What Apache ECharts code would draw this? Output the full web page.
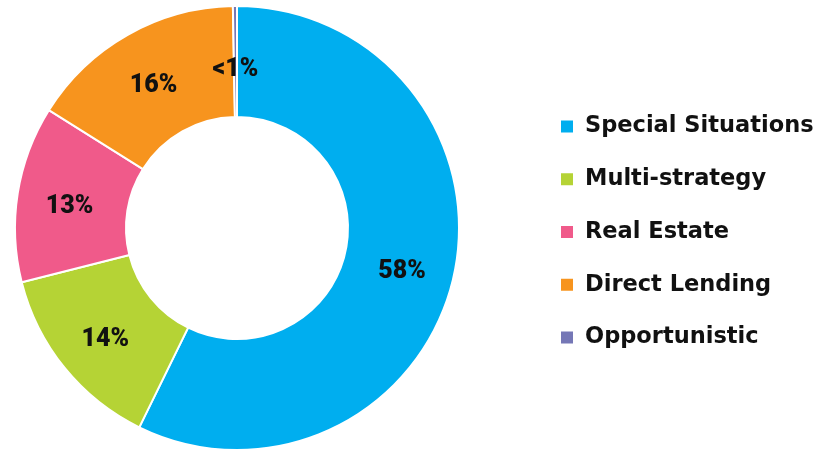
<!DOCTYPE html>
<html>
<head>
<meta charset="utf-8">
<script src="https://cdn.jsdelivr.net/npm/echarts@6/dist/echarts.min.js"></script>
<style>
  html, body { margin: 0; padding: 0; background: #ffffff; }
  #chart { width: 840px; height: 452px; }
</style>
</head>
<body>
<div id="chart"></div>
<script>
// Strategy allocation (percent of total)
const categories = ['Special Situations', 'Multi-strategy', 'Real Estate', 'Direct Lending', 'Opportunistic'];
const shares = [58, 14, 13, 16, 0.3];
const colors = ['#00aeef', '#b5d335', '#f05a8a', '#f7941e', '#7577b6'];

const LEGEND_FONT = '"DejaVu Sans", sans-serif';
const LABEL_FONT = 'Roboto, "Open Sans", sans-serif';

const chart = echarts.init(document.getElementById('chart'), null, { renderer: 'canvas' });

chart.setOption({
  animation: false,
  color: colors,
  legend: {
    orient: 'vertical',
    left: 554,
    top: 110,
    itemWidth: 14,
    itemHeight: 14,
    itemGap: 29.75,
    icon: 'rect',
    data: categories,
    textStyle: {
      fontFamily: LEGEND_FONT,
      fontWeight: 'bold',
      fontSize: 22.5,
      lineHeight: 22,
      color: '#111111',
      padding: [0, 0, 0, 6]
    }
  },
  series: [{
    type: 'pie',
    center: [237, 228],
    radius: [111, 222],
    startAngle: 90,
    clockwise: true,
    avoidLabelOverlap: false,
    minAngle: 0,
    itemStyle: { borderColor: '#ffffff', borderWidth: 2 },
    label: {
      show: true,
      position: 'inside',
      offset: [0, 5],
      fontFamily: LABEL_FONT,
      fontWeight: 900,
      fontSize: 25,
      color: '#111111',
      formatter: p => (p.value < 1 ? '<1' : Math.round(p.value)) + '%'
    },
    labelLine: { show: false },
    emphasis: { disabled: true },
    data: categories.map((name, i) => {
      const item = { name, value: shares[i] };
      // the sliver at the top gets its label nudged a little further into the ring
      if (shares[i] < 1) item.label = { offset: [0, 11] };
      return item;
    })
  }]
});
</script>
</body>
</html>
